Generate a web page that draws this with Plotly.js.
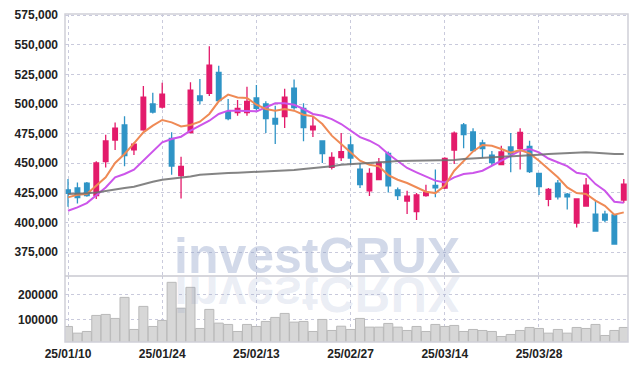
<!DOCTYPE html>
<html>
<head>
<meta charset="utf-8">
<script src="https://cdn.plot.ly/plotly-3.0.1.min.js"></script>
<style>
  html, body { margin: 0; padding: 0; background: #fff; }
  #chart { width: 637px; height: 370px; }
</style>
</head>
<body>
<div id="chart"></div>
<script>
const dates = [
  '25/01/10','25/01/13','25/01/14','25/01/15','25/01/16','25/01/17','25/01/20','25/01/21','25/01/22','25/01/23',
  '25/01/24','25/01/31','25/02/03','25/02/04','25/02/05','25/02/06','25/02/07','25/02/10','25/02/11','25/02/12',
  '25/02/13','25/02/14','25/02/17','25/02/18','25/02/19','25/02/20','25/02/21','25/02/24','25/02/25','25/02/26',
  '25/02/27','25/02/28','25/03/04','25/03/05','25/03/06','25/03/07','25/03/10','25/03/11','25/03/12','25/03/13',
  '25/03/14','25/03/17','25/03/18','25/03/19','25/03/20','25/03/21','25/03/24','25/03/25','25/03/26','25/03/27',
  '25/03/28','25/03/31','25/04/01','25/04/02','25/04/03','25/04/04','25/04/07','25/04/08','25/04/09','25/04/10'
];
const tickLabels = ['25/01/10','25/01/24','25/02/13','25/02/27','25/03/14','25/03/28'];

const openP = [
  427400,429100,433300,422600,451300,469600,482300,461400,478300,500000,
  497500,471000,439500,475800,506800,509000,526700,493500,492700,492700,
  505100,500000,487900,489300,513500,496300,478300,468800,446500,454700,
  465400,445100,426800,436100,458300,427400,418100,409100,422600,431300,
  429100,461200,482300,476400,467100,456900,448800,463700,462300,464300,
  441400,419500,433300,424000,399500,413900,407100,407100,406300,418900
];
const highP = [
  436700,433800,434100,451600,474100,484500,489600,467600,515200,509600,
  518000,476100,455500,518300,521100,548700,532400,504200,503400,514600,
  516000,502300,498600,512900,520600,500600,489600,468800,459200,475500,
  472700,449900,445700,454400,460000,429600,426800,424800,431900,444800,
  455000,476900,484000,479500,469900,460300,464800,475500,479500,469000,
  441400,429100,435800,424800,419800,437500,418400,409900,406300,436700
];
const lowP = [
  413300,416100,421700,419800,446500,461200,447400,456900,477500,492100,
  496300,440300,420300,475200,499700,506800,502300,486200,490100,490100,
  494400,475500,466200,479700,495200,468500,472100,450200,444800,451900,
  448800,429100,422300,436100,425400,418900,407100,402000,421700,421200,
  428200,449300,462600,460600,454400,447900,448800,442300,444800,441700,
  423200,413600,419500,411000,395800,413900,392200,400100,381200,416400
];
const closeP = [
  424600,420900,422600,450200,468800,479700,456400,466200,505900,493200,
  508400,447600,447400,511800,502800,532900,502800,487600,496300,502300,
  496300,487600,483100,505900,496900,480000,481400,458100,455000,459700,
  454400,431900,441400,450700,431000,422600,422300,423200,425400,429300,
  454100,475500,474100,460600,462300,450500,459500,457800,476100,442900,
  430200,427900,421700,421700,419800,431600,392700,402000,381800,432400
];
const ma5 = [
  421200,423400,424000,431000,438100,450200,457800,466800,476100,481700,
  486500,484500,481100,482300,485100,491600,502300,507900,505600,505100,
  499400,495800,494400,495800,494400,491000,489600,483100,473300,466200,
  459200,452100,448800,447400,440000,436100,433300,429600,426000,424800,
  431000,443700,452100,460000,465400,464800,462000,458900,461200,458300,
  452100,445100,438100,429600,424800,424000,418400,414100,406500,408500
];
const ma10 = [
  409900,412700,416400,422600,429600,438100,440900,444500,452100,459200,
  467600,470400,472400,477500,481700,485900,491600,494400,494400,493800,
  493800,497200,500600,500600,499400,495800,491600,490100,487300,483100,
  477500,472000,469000,464800,457800,452100,446000,442300,438600,435300,
  433800,438100,440900,441700,443700,447900,452100,455800,460600,462000,
  459200,454000,450500,447600,442000,440600,432400,426800,417500,416700
];
const ma60 = [
  424000,424000,424600,425400,426800,427700,429100,430200,432400,434400,
  436100,436900,438100,438900,440300,440900,441400,441700,442000,442300,
  442600,443100,443500,443900,444300,445200,446000,446500,447500,448800,
  449200,449600,450200,450700,451300,451900,452000,452100,452100,452200,
  452400,452700,453600,454000,454400,454700,455000,455500,456100,456700,
  457200,457800,458300,458600,458900,459200,458900,458300,457800,457800
];
const volume = [
  72000,45300,52000,116000,120000,104000,188000,60000,152000,72000,
  96000,248000,145000,228000,64000,140000,85300,80000,52000,80000,
  72000,92000,108000,124000,89300,92000,52000,100000,56000,73000,
  60000,104000,69300,69300,84000,69300,56000,72000,52000,80000,
  72000,76000,52000,60000,56000,52000,32000,40000,56000,68000,
  64000,45300,60000,45300,68000,64000,80000,36000,56000,68000
];
const watermark = 'investCRUX';

const UP = '#e31b6b';
const DOWN = '#2f94c6';
const tickFont = {family: 'Liberation Sans, Arial, sans-serif', size: 12, color: '#222', weight: 'bold'};
const gridColor = '#c9cadc';

const traces = [
  {type: 'bar', x: dates, y: volume, xaxis: 'x', yaxis: 'y2',
   marker: {color: '#d7d7d7', line: {color: '#b9b9b9', width: 1}}, hoverinfo: 'skip'},
  {type: 'scatter', mode: 'lines', x: dates, y: ma10, xaxis: 'x', yaxis: 'y',
   line: {color: '#cc55ea', width: 2}, hoverinfo: 'skip'},
  {type: 'scatter', mode: 'lines', x: dates, y: ma5, xaxis: 'x', yaxis: 'y',
   line: {color: '#ef8a55', width: 2}, hoverinfo: 'skip'},
  {type: 'candlestick', x: dates, open: openP, high: highP, low: lowP, close: closeP,
   xaxis: 'x', yaxis: 'y',
   increasing: {line: {color: UP, width: 1.3}, fillcolor: UP},
   decreasing: {line: {color: DOWN, width: 1.3}, fillcolor: DOWN},
   whiskerwidth: 0, hoverinfo: 'skip'},
  {type: 'scatter', mode: 'lines', x: dates, y: ma60, xaxis: 'x', yaxis: 'y',
   line: {color: 'rgba(110,110,110,0.85)', width: 2}, hoverinfo: 'skip'}
];

const splitFrac = 0.201;
const layout = {
  width: 637, height: 370,
  margin: {l: 65, r: 9, t: 14, b: 28, pad: 0},
  paper_bgcolor: '#fff', plot_bgcolor: '#fff',
  showlegend: false, hovermode: false, bargap: 0.04,
  xaxis: {
    type: 'category', range: [-0.32, 59.45], anchor: 'y2',
    tickvals: tickLabels, ticktext: tickLabels,
    showgrid: true, gridcolor: gridColor, griddash: 'dot', gridwidth: 1,
    ticks: '', ticklabelstandoff: 3, tickfont: tickFont, showline: false, zeroline: false,
    rangeslider: {visible: false}, fixedrange: true
  },
  yaxis: {
    domain: [splitFrac, 1], range: [354750, 576000], dtick: 25000, tick0: 0,
    tickformat: ',d', showgrid: true, gridcolor: gridColor, griddash: 'dot',
    ticks: '', ticklabelstandoff: 6, tickfont: tickFont, zeroline: false, showline: false
  },
  yaxis2: {
    domain: [0, splitFrac], range: [10000, 273000], dtick: 100000, tick0: 0,
    tickformat: 'd', showgrid: true, gridcolor: gridColor, griddash: 'dot',
    ticks: '', ticklabelstandoff: 6, tickfont: tickFont, zeroline: false, showline: false
  },
  shapes: [
    {type: 'rect', xref: 'paper', yref: 'paper', x0: 0, x1: 1, y0: 0, y1: 1,
     line: {color: '#d0d0d8', width: 1.5}},
    {type: 'line', xref: 'paper', yref: 'paper', x0: 0, x1: 1, y0: splitFrac, y1: splitFrac,
     line: {color: '#c8c8d0', width: 1.5}}
  ],
  annotations: [
    {text: watermark, xref: 'paper', yref: 'paper', x: 0.447, y: 0.17, xanchor: 'center', yanchor: 'bottom',
     showarrow: false, font: {family: 'Liberation Sans, Arial, sans-serif', size: 50, weight: 'bold', color: 'rgba(130,150,195,0.36)'}},
    {text: watermark, xref: 'paper', yref: 'paper', x: 0.447, y: 0.17, xanchor: 'center', yanchor: 'bottom',
     showarrow: false, font: {family: 'Liberation Sans, Arial, sans-serif', size: 50, weight: 'bold', color: 'rgba(130,150,195,0.17)'}}
  ]
};

Plotly.newPlot('chart', traces, layout, {staticPlot: true, displayModeBar: false}).then(function () {
  const anns = document.querySelectorAll('#chart .annotation');
  if (anns.length > 1) {
    const main = anns[0].querySelector('text');
    let m = 274;
    if (main) {
      const r = main.getBoundingClientRect();
      const svgR = document.querySelector('#chart .main-svg').getBoundingClientRect();
      m = r.bottom - svgR.top - 50 * 0.212 + 1.5;
    }
    anns[1].setAttribute('transform', 'translate(0,' + (2 * m) + ') scale(1,-1)');
  }
});
</script>
</body>
</html>
